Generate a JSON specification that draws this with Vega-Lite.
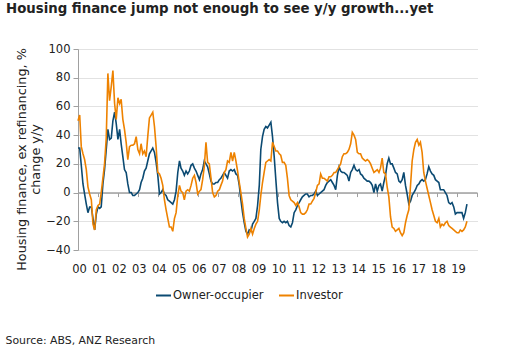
{
  "$schema": "https://vega.github.io/schema/vega-lite/v6.json",
  "width": 399,
  "height": 201,
  "autosize": {"type": "none"},
  "padding": {"left": 78, "top": 49, "right": 28, "bottom": 104},
  "background": "white",
  "view": {"stroke": null},
  "title": {
    "text": "Housing finance jump not enough to see y/y growth...yet",
    "anchor": "start",
    "frame": "group",
    "dx": -72,
    "dy": -17,
    "offset": 0,
    "baseline": "alphabetic",
    "font": "DejaVu Sans",
    "fontSize": 13.3,
    "fontWeight": "bold",
    "color": "#222222"
  },
  "config": {
    "axis": {"labelFont": "DejaVu Sans", "titleFont": "DejaVu Sans", "labelFontSize": 11.5, "labelColor": "#222222"},
    "legend": {"labelFont": "DejaVu Sans"}
  },
  "data": {
    "values": [
      {"d":"2000-01-01","Owner-occupier":31,"Investor":50},
      {"d":"2000-02-01","Owner-occupier":31,"Investor":54},
      {"d":"2000-03-01","Owner-occupier":19,"Investor":32},
      {"d":"2000-04-01","Owner-occupier":6,"Investor":27},
      {"d":"2000-05-01","Owner-occupier":-1,"Investor":23},
      {"d":"2000-06-01","Owner-occupier":-8,"Investor":16},
      {"d":"2000-07-01","Owner-occupier":-14,"Investor":4},
      {"d":"2000-08-01","Owner-occupier":-10,"Investor":-1},
      {"d":"2000-09-01","Owner-occupier":-10,"Investor":-5},
      {"d":"2000-10-01","Owner-occupier":-18,"Investor":-22},
      {"d":"2000-11-01","Owner-occupier":-26,"Investor":-26},
      {"d":"2000-12-01","Owner-occupier":-15,"Investor":-12},
      {"d":"2001-01-01","Owner-occupier":-10,"Investor":-9},
      {"d":"2001-02-01","Owner-occupier":-11,"Investor":-8},
      {"d":"2001-03-01","Owner-occupier":-10,"Investor":0},
      {"d":"2001-04-01","Owner-occupier":6,"Investor":10},
      {"d":"2001-05-01","Owner-occupier":16,"Investor":20},
      {"d":"2001-06-01","Owner-occupier":30,"Investor":38},
      {"d":"2001-07-01","Owner-occupier":44,"Investor":83},
      {"d":"2001-08-01","Owner-occupier":37,"Investor":64},
      {"d":"2001-09-01","Owner-occupier":38,"Investor":74},
      {"d":"2001-10-01","Owner-occupier":50,"Investor":85},
      {"d":"2001-11-01","Owner-occupier":56,"Investor":62},
      {"d":"2001-12-01","Owner-occupier":48,"Investor":51},
      {"d":"2002-01-01","Owner-occupier":37,"Investor":66},
      {"d":"2002-02-01","Owner-occupier":44,"Investor":62},
      {"d":"2002-03-01","Owner-occupier":34,"Investor":65},
      {"d":"2002-04-01","Owner-occupier":25,"Investor":51},
      {"d":"2002-05-01","Owner-occupier":16,"Investor":44},
      {"d":"2002-06-01","Owner-occupier":14,"Investor":35},
      {"d":"2002-07-01","Owner-occupier":6,"Investor":23},
      {"d":"2002-08-01","Owner-occupier":0,"Investor":32},
      {"d":"2002-09-01","Owner-occupier":0,"Investor":33},
      {"d":"2002-10-01","Owner-occupier":-2,"Investor":33},
      {"d":"2002-11-01","Owner-occupier":-2,"Investor":34},
      {"d":"2002-12-01","Owner-occupier":-1,"Investor":39},
      {"d":"2003-01-01","Owner-occupier":0,"Investor":30},
      {"d":"2003-02-01","Owner-occupier":2,"Investor":27},
      {"d":"2003-03-01","Owner-occupier":7,"Investor":34},
      {"d":"2003-04-01","Owner-occupier":10,"Investor":27},
      {"d":"2003-05-01","Owner-occupier":15,"Investor":29},
      {"d":"2003-06-01","Owner-occupier":17,"Investor":25},
      {"d":"2003-07-01","Owner-occupier":22,"Investor":39},
      {"d":"2003-08-01","Owner-occupier":27,"Investor":52},
      {"d":"2003-09-01","Owner-occupier":29,"Investor":54},
      {"d":"2003-10-01","Owner-occupier":31,"Investor":56},
      {"d":"2003-11-01","Owner-occupier":28,"Investor":46},
      {"d":"2003-12-01","Owner-occupier":21,"Investor":32},
      {"d":"2004-01-01","Owner-occupier":12,"Investor":14},
      {"d":"2004-02-01","Owner-occupier":-1,"Investor":13},
      {"d":"2004-03-01","Owner-occupier":0,"Investor":10},
      {"d":"2004-04-01","Owner-occupier":2,"Investor":5},
      {"d":"2004-05-01","Owner-occupier":-1,"Investor":-5},
      {"d":"2004-06-01","Owner-occupier":-2,"Investor":-12},
      {"d":"2004-07-01","Owner-occupier":-5,"Investor":-18},
      {"d":"2004-08-01","Owner-occupier":-6,"Investor":-24},
      {"d":"2004-09-01","Owner-occupier":-7,"Investor":-24},
      {"d":"2004-10-01","Owner-occupier":-8,"Investor":-27},
      {"d":"2004-11-01","Owner-occupier":-5,"Investor":-18},
      {"d":"2004-12-01","Owner-occupier":1,"Investor":-14},
      {"d":"2005-01-01","Owner-occupier":14,"Investor":-2},
      {"d":"2005-02-01","Owner-occupier":22,"Investor":5},
      {"d":"2005-03-01","Owner-occupier":17,"Investor":1},
      {"d":"2005-04-01","Owner-occupier":15,"Investor":0},
      {"d":"2005-05-01","Owner-occupier":12,"Investor":-5},
      {"d":"2005-06-01","Owner-occupier":15,"Investor":1},
      {"d":"2005-07-01","Owner-occupier":13,"Investor":2},
      {"d":"2005-08-01","Owner-occupier":15,"Investor":1},
      {"d":"2005-09-01","Owner-occupier":19,"Investor":5},
      {"d":"2005-10-01","Owner-occupier":20,"Investor":10},
      {"d":"2005-11-01","Owner-occupier":17,"Investor":12},
      {"d":"2005-12-01","Owner-occupier":15,"Investor":7},
      {"d":"2006-01-01","Owner-occupier":12,"Investor":-1},
      {"d":"2006-02-01","Owner-occupier":9,"Investor":1},
      {"d":"2006-03-01","Owner-occupier":13,"Investor":2},
      {"d":"2006-04-01","Owner-occupier":16,"Investor":9},
      {"d":"2006-05-01","Owner-occupier":22,"Investor":18},
      {"d":"2006-06-01","Owner-occupier":20,"Investor":35},
      {"d":"2006-07-01","Owner-occupier":18,"Investor":21},
      {"d":"2006-08-01","Owner-occupier":13,"Investor":20},
      {"d":"2006-09-01","Owner-occupier":8,"Investor":10},
      {"d":"2006-10-01","Owner-occupier":6,"Investor":0},
      {"d":"2006-11-01","Owner-occupier":6,"Investor":-3},
      {"d":"2006-12-01","Owner-occupier":7,"Investor":-2},
      {"d":"2007-01-01","Owner-occupier":7,"Investor":1},
      {"d":"2007-02-01","Owner-occupier":9,"Investor":2},
      {"d":"2007-03-01","Owner-occupier":10,"Investor":5},
      {"d":"2007-04-01","Owner-occupier":12,"Investor":8},
      {"d":"2007-05-01","Owner-occupier":14,"Investor":14},
      {"d":"2007-06-01","Owner-occupier":12,"Investor":16},
      {"d":"2007-07-01","Owner-occupier":10,"Investor":22},
      {"d":"2007-08-01","Owner-occupier":15,"Investor":21},
      {"d":"2007-09-01","Owner-occupier":16,"Investor":28},
      {"d":"2007-10-01","Owner-occupier":15,"Investor":22},
      {"d":"2007-11-01","Owner-occupier":16,"Investor":28},
      {"d":"2007-12-01","Owner-occupier":13,"Investor":22},
      {"d":"2008-01-01","Owner-occupier":12,"Investor":15},
      {"d":"2008-02-01","Owner-occupier":5,"Investor":7},
      {"d":"2008-03-01","Owner-occupier":-5,"Investor":0},
      {"d":"2008-04-01","Owner-occupier":-14,"Investor":-8},
      {"d":"2008-05-01","Owner-occupier":-21,"Investor":-18},
      {"d":"2008-06-01","Owner-occupier":-27,"Investor":-25},
      {"d":"2008-07-01","Owner-occupier":-29,"Investor":-31},
      {"d":"2008-08-01","Owner-occupier":-26,"Investor":-29},
      {"d":"2008-09-01","Owner-occupier":-27,"Investor":-25},
      {"d":"2008-10-01","Owner-occupier":-22,"Investor":-29},
      {"d":"2008-11-01","Owner-occupier":-20,"Investor":-25},
      {"d":"2008-12-01","Owner-occupier":-18,"Investor":-22},
      {"d":"2009-01-01","Owner-occupier":-9,"Investor":-20},
      {"d":"2009-02-01","Owner-occupier":5,"Investor":-12},
      {"d":"2009-03-01","Owner-occupier":30,"Investor":-2},
      {"d":"2009-04-01","Owner-occupier":39,"Investor":7},
      {"d":"2009-05-01","Owner-occupier":44,"Investor":14},
      {"d":"2009-06-01","Owner-occupier":46,"Investor":21},
      {"d":"2009-07-01","Owner-occupier":45,"Investor":22},
      {"d":"2009-08-01","Owner-occupier":47,"Investor":23},
      {"d":"2009-09-01","Owner-occupier":49,"Investor":22},
      {"d":"2009-10-01","Owner-occupier":39,"Investor":35},
      {"d":"2009-11-01","Owner-occupier":25,"Investor":32},
      {"d":"2009-12-01","Owner-occupier":9,"Investor":29},
      {"d":"2010-01-01","Owner-occupier":-7,"Investor":29},
      {"d":"2010-02-01","Owner-occupier":-18,"Investor":27},
      {"d":"2010-03-01","Owner-occupier":-20,"Investor":26},
      {"d":"2010-04-01","Owner-occupier":-21,"Investor":21},
      {"d":"2010-05-01","Owner-occupier":-20,"Investor":21},
      {"d":"2010-06-01","Owner-occupier":-21,"Investor":19},
      {"d":"2010-07-01","Owner-occupier":-20,"Investor":10},
      {"d":"2010-08-01","Owner-occupier":-23,"Investor":-2},
      {"d":"2010-09-01","Owner-occupier":-24,"Investor":-5},
      {"d":"2010-10-01","Owner-occupier":-21,"Investor":-6},
      {"d":"2010-11-01","Owner-occupier":-14,"Investor":-7},
      {"d":"2010-12-01","Owner-occupier":-12,"Investor":-9},
      {"d":"2011-01-01","Owner-occupier":-9,"Investor":-7},
      {"d":"2011-02-01","Owner-occupier":-7,"Investor":-10},
      {"d":"2011-03-01","Owner-occupier":-5,"Investor":-14},
      {"d":"2011-04-01","Owner-occupier":-3,"Investor":-15},
      {"d":"2011-05-01","Owner-occupier":-2,"Investor":-15},
      {"d":"2011-06-01","Owner-occupier":-1,"Investor":-14},
      {"d":"2011-07-01","Owner-occupier":-1,"Investor":-12},
      {"d":"2011-08-01","Owner-occupier":-3,"Investor":-8},
      {"d":"2011-09-01","Owner-occupier":-2,"Investor":-8},
      {"d":"2011-10-01","Owner-occupier":-2,"Investor":-6},
      {"d":"2011-11-01","Owner-occupier":-1,"Investor":-4},
      {"d":"2011-12-01","Owner-occupier":1,"Investor":0},
      {"d":"2012-01-01","Owner-occupier":-2,"Investor":5},
      {"d":"2012-02-01","Owner-occupier":-1,"Investor":6},
      {"d":"2012-03-01","Owner-occupier":0,"Investor":13},
      {"d":"2012-04-01","Owner-occupier":1,"Investor":10},
      {"d":"2012-05-01","Owner-occupier":2,"Investor":10},
      {"d":"2012-06-01","Owner-occupier":5,"Investor":9},
      {"d":"2012-07-01","Owner-occupier":7,"Investor":8},
      {"d":"2012-08-01","Owner-occupier":8,"Investor":11},
      {"d":"2012-09-01","Owner-occupier":9,"Investor":11},
      {"d":"2012-10-01","Owner-occupier":7,"Investor":12},
      {"d":"2012-11-01","Owner-occupier":5,"Investor":14},
      {"d":"2012-12-01","Owner-occupier":2,"Investor":14},
      {"d":"2013-01-01","Owner-occupier":12,"Investor":16},
      {"d":"2013-02-01","Owner-occupier":18,"Investor":18},
      {"d":"2013-03-01","Owner-occupier":15,"Investor":20},
      {"d":"2013-04-01","Owner-occupier":14,"Investor":25},
      {"d":"2013-05-01","Owner-occupier":14,"Investor":27},
      {"d":"2013-06-01","Owner-occupier":13,"Investor":27},
      {"d":"2013-07-01","Owner-occupier":12,"Investor":28},
      {"d":"2013-08-01","Owner-occupier":8,"Investor":30},
      {"d":"2013-09-01","Owner-occupier":14,"Investor":34},
      {"d":"2013-10-01","Owner-occupier":16,"Investor":42},
      {"d":"2013-11-01","Owner-occupier":19,"Investor":40},
      {"d":"2013-12-01","Owner-occupier":16,"Investor":37},
      {"d":"2014-01-01","Owner-occupier":15,"Investor":28},
      {"d":"2014-02-01","Owner-occupier":16,"Investor":27},
      {"d":"2014-03-01","Owner-occupier":13,"Investor":27},
      {"d":"2014-04-01","Owner-occupier":12,"Investor":24},
      {"d":"2014-05-01","Owner-occupier":10,"Investor":23},
      {"d":"2014-06-01","Owner-occupier":9,"Investor":22},
      {"d":"2014-07-01","Owner-occupier":8,"Investor":23},
      {"d":"2014-08-01","Owner-occupier":8,"Investor":22},
      {"d":"2014-09-01","Owner-occupier":7,"Investor":20},
      {"d":"2014-10-01","Owner-occupier":5,"Investor":17},
      {"d":"2014-11-01","Owner-occupier":0,"Investor":14},
      {"d":"2014-12-01","Owner-occupier":6,"Investor":15},
      {"d":"2015-01-01","Owner-occupier":1,"Investor":16},
      {"d":"2015-02-01","Owner-occupier":5,"Investor":14},
      {"d":"2015-03-01","Owner-occupier":6,"Investor":17},
      {"d":"2015-04-01","Owner-occupier":1,"Investor":24},
      {"d":"2015-05-01","Owner-occupier":7,"Investor":14},
      {"d":"2015-06-01","Owner-occupier":12,"Investor":13},
      {"d":"2015-07-01","Owner-occupier":20,"Investor":4},
      {"d":"2015-08-01","Owner-occupier":24,"Investor":-3},
      {"d":"2015-09-01","Owner-occupier":20,"Investor":-17},
      {"d":"2015-10-01","Owner-occupier":20,"Investor":-24},
      {"d":"2015-11-01","Owner-occupier":17,"Investor":-25},
      {"d":"2015-12-01","Owner-occupier":14,"Investor":-27},
      {"d":"2016-01-01","Owner-occupier":13,"Investor":-26},
      {"d":"2016-02-01","Owner-occupier":8,"Investor":-25},
      {"d":"2016-03-01","Owner-occupier":7,"Investor":-28},
      {"d":"2016-04-01","Owner-occupier":9,"Investor":-30},
      {"d":"2016-05-01","Owner-occupier":14,"Investor":-28},
      {"d":"2016-06-01","Owner-occupier":5,"Investor":-21},
      {"d":"2016-07-01","Owner-occupier":-1,"Investor":-16},
      {"d":"2016-08-01","Owner-occupier":-8,"Investor":-12},
      {"d":"2016-09-01","Owner-occupier":-6,"Investor":5},
      {"d":"2016-10-01","Owner-occupier":-2,"Investor":22},
      {"d":"2016-11-01","Owner-occupier":0,"Investor":30},
      {"d":"2016-12-01","Owner-occupier":2,"Investor":35},
      {"d":"2017-01-01","Owner-occupier":5,"Investor":37},
      {"d":"2017-02-01","Owner-occupier":6,"Investor":33},
      {"d":"2017-03-01","Owner-occupier":8,"Investor":35},
      {"d":"2017-04-01","Owner-occupier":9,"Investor":28},
      {"d":"2017-05-01","Owner-occupier":8,"Investor":14},
      {"d":"2017-06-01","Owner-occupier":9,"Investor":8},
      {"d":"2017-07-01","Owner-occupier":13,"Investor":3},
      {"d":"2017-08-01","Owner-occupier":18,"Investor":-2},
      {"d":"2017-09-01","Owner-occupier":15,"Investor":-7},
      {"d":"2017-10-01","Owner-occupier":13,"Investor":-12},
      {"d":"2017-11-01","Owner-occupier":12,"Investor":-16},
      {"d":"2017-12-01","Owner-occupier":9,"Investor":-20},
      {"d":"2018-01-01","Owner-occupier":8,"Investor":-21},
      {"d":"2018-02-01","Owner-occupier":7,"Investor":-18},
      {"d":"2018-03-01","Owner-occupier":2,"Investor":-24},
      {"d":"2018-04-01","Owner-occupier":2,"Investor":-22},
      {"d":"2018-05-01","Owner-occupier":2,"Investor":-23},
      {"d":"2018-06-01","Owner-occupier":0,"Investor":-21},
      {"d":"2018-07-01","Owner-occupier":-2,"Investor":-20},
      {"d":"2018-08-01","Owner-occupier":-7,"Investor":-23},
      {"d":"2018-09-01","Owner-occupier":-8,"Investor":-24},
      {"d":"2018-10-01","Owner-occupier":-7,"Investor":-25},
      {"d":"2018-11-01","Owner-occupier":-10,"Investor":-26},
      {"d":"2018-12-01","Owner-occupier":-15,"Investor":-27},
      {"d":"2019-01-01","Owner-occupier":-14,"Investor":-28},
      {"d":"2019-02-01","Owner-occupier":-14,"Investor":-28},
      {"d":"2019-03-01","Owner-occupier":-14,"Investor":-26},
      {"d":"2019-04-01","Owner-occupier":-14,"Investor":-27},
      {"d":"2019-05-01","Owner-occupier":-18,"Investor":-26},
      {"d":"2019-06-01","Owner-occupier":-14,"Investor":-24},
      {"d":"2019-07-01","Owner-occupier":-8,"Investor":-20}
    ]
  },
  "transform": [
    {"fold": ["Owner-occupier", "Investor"], "as": ["series", "value"]}
  ],
  "mark": {"type": "line", "strokeWidth": 1.6, "interpolate": "linear"},
  "encoding": {
    "x": {
      "field": "d",
      "type": "temporal",
      "scale": {"domain": [{"year": 2000, "month": 1, "date": 1}, {"year": 2020, "month": 1, "date": 1}], "nice": false},
      "axis": {
        "orient": "bottom",
        "offset": -57.43,
        "values": [{"year":2000},{"year":2001},{"year":2002},{"year":2003},{"year":2004},{"year":2005},{"year":2006},{"year":2007},{"year":2008},{"year":2009},{"year":2010},{"year":2011},{"year":2012},{"year":2013},{"year":2014},{"year":2015},{"year":2016},{"year":2017},{"year":2018},{"year":2019},{"year":2020}],
        "labelExpr": "year(datum.value) >= 2020 ? '' : timeFormat(datum.value, '%y')",
        "labelOffset": 1,
        "labelPadding": 67,
        "labelFlush": false,
        "labelOverlap": false,
        "grid": false,
        "domainColor": "#a0a0a0",
        "domainWidth": 1.5,
        "tickColor": "#a0a0a0",
        "tickSize": 4,
        "title": "Source: ABS, ANZ Research",
        "titleX": -73,
        "titleY": 151,
        "titleAlign": "left",
        "titleAnchor": null,
        "titleBaseline": "alphabetic",
        "titleFontWeight": "normal",
        "titleFontSize": 10.9,
        "titleColor": "#222222"
      }
    },
    "y": {
      "field": "value",
      "type": "quantitative",
      "scale": {"domain": [-40, 100], "nice": false, "zero": false},
      "axis": {
        "values": [-40, -20, 0, 20, 40, 60, 80, 100],
        "grid": true,
        "gridColor": "#c4c4c4",
        "gridDash": [1, 1],
        "domainColor": "#a0a0a0",
        "tickColor": "#a0a0a0",
        "tickSize": 5,
        "labelPadding": 3,
        "title": ["Housing finance, ex refinancing, %", "change y/y"],
        "titleFontSize": 12.8,
        "titleFontWeight": "normal",
        "titleColor": "#222222",
        "titlePadding": 3,
        "titleLineHeight": 14,
        "titleY": 110
      }
    },
    "color": {
      "field": "series",
      "type": "nominal",
      "scale": {"domain": ["Owner-occupier", "Investor"], "range": ["#0b4a72", "#ee8200"]},
      "legend": {
        "orient": "none",
        "legendX": 77,
        "legendY": 238,
        "direction": "horizontal",
        "title": null,
        "symbolType": "stroke",
        "symbolStrokeWidth": 2,
        "symbolSize": 225,
        "labelFontSize": 11.5,
        "labelColor": "#222222",
        "labelOffset": 1,
        "columnPadding": 11
      }
    }
  }
}
